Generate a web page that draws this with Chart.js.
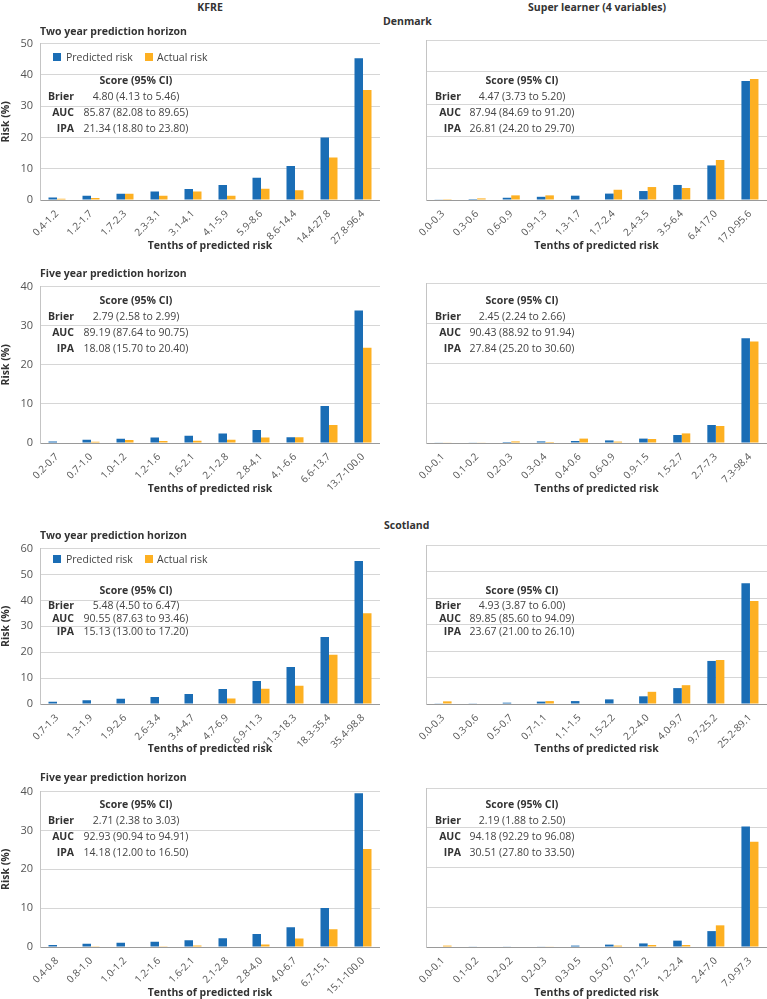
<!DOCTYPE html>
<html><head><meta charset="utf-8">
<script src="https://cdn.jsdelivr.net/npm/chart.js@4.4.1/dist/chart.umd.min.js"></script>
<style>
body{margin:0;width:767px;height:999px;overflow:hidden;background:#fff;position:relative;font-family:"Open Sans",sans-serif;color:#333}
.t{position:absolute;white-space:nowrap;line-height:1;transform:translateY(-50%)}
canvas{position:absolute}
</style></head><body>
<script>
// ---------- data ----------
const catsDK2_KFRE = ["0.4-1.2","1.2-1.7","1.7-2.3","2.3-3.1","3.1-4.1","4.1-5.9","5.9-8.6","8.6-14.4","14.4-27.8","27.8-96.4"];
const predDK2_KFRE = [0.8,1.35,2.0,2.7,3.5,4.8,7.1,10.9,20.0,45.3];
const actDK2_KFRE  = [0.4,0.6,2.0,1.35,2.7,1.35,3.6,3.1,13.6,35.2];

const catsDK2_SL = ["0.0-0.3","0.3-0.6","0.6-0.9","0.9-1.3","1.3-1.7","1.7-2.4","2.4-3.5","3.5-6.4","6.4-17.0","17.0-95.6"];
const predDK2_SL = [0.2,0.3,0.7,1.0,1.35,2.0,2.8,4.7,10.8,37.2];
const actDK2_SL  = [0.05,0.5,1.45,1.45,0,3.2,4.05,3.75,12.5,37.8];

const catsDK5_KFRE = ["0.2-0.7","0.7-1.0","1.0-1.2","1.2-1.6","1.6-2.1","2.1-2.8","2.8-4.1","4.1-6.6","6.6-13.7","13.7-100.0"];
const predDK5_KFRE = [0.4,0.85,1.1,1.4,1.85,2.45,3.35,1.5,9.45,33.9];
const actDK5_KFRE  = [0.15,0.35,0.75,0.5,0.6,0.85,1.4,1.5,4.6,24.35];

const catsDK5_SL = ["0.0-0.1","0.1-0.2","0.2-0.3","0.3-0.4","0.4-0.6","0.6-0.9","0.9-1.5","1.5-2.7","2.7-7.3","7.3-98.4"];
const predDK5_SL = [0.15,0.15,0.25,0.4,0.5,0.65,1.1,2.0,4.5,26.2];
const actDK5_SL  = [0.15,0.15,0.4,0.25,1.1,0.35,1.0,2.4,4.25,25.35];

const catsSC2_KFRE = ["0.7-1.3","1.3-1.9","1.9-2.6","2.6-3.4","3.4-4.7","4.7-6.9","6.9-11.3","11.3-18.3","18.3-35.4","35.4-98.8"];
const predSC2_KFRE = [0.9,1.4,2.0,2.75,3.9,5.75,8.9,14.25,25.9,55.25];
const actSC2_KFRE  = [0,0,0,0,0,2.1,5.9,7.0,19.0,35.0];

const catsSC2_SL = ["0.0-0.3","0.3-0.6","0.5-0.7","0.7-1.1","1.1-1.5","1.5-2.2","2.2-4.0","4.0-9.7","9.7-25.2","25.2-89.1"];
const predSC2_SL = [0.25,0.25,0.5,0.9,1.1,1.75,2.9,6.0,16.25,45.6];
const actSC2_SL  = [1.0,0,0,1.1,0,0,4.6,7.1,16.6,38.9];

const catsSC5_KFRE = ["0.4-0.8","0.8-1.0","1.0-1.2","1.2-1.6","1.6-2.1","2.1-2.8","2.8-4.0","4.0-6.7","6.7-15.1","15.1-100.0"];
const predSC5_KFRE = [0.5,0.85,1.1,1.35,1.75,2.25,3.35,5.1,10.05,39.6];
const actSC5_KFRE  = [0.1,0.05,0.1,0.05,0.4,0.1,0.65,2.2,4.6,25.25];

const catsSC5_SL = ["0.0-0.1","0.1-0.2","0.2-0.2","0.2-0.3","0.3-0.5","0.5-0.7","0.7-1.2","1.2-2.4","2.4-7.0","7.0-97.3"];
const predSC5_SL = [0,0.1,0.1,0.15,0.35,0.6,0.9,1.6,4.0,30.3];
const actSC5_SL  = [0.35,0,0,0.1,0,0.35,0.5,0.5,5.45,26.5];

const scoreLabels = ["Brier","AUC","IPA"];
const scoresDK2_KFRE = ["4.80 (4.13 to 5.46)","85.87 (82.08 to 89.65)","21.34 (18.80 to 23.80)"];
const scoresDK2_SL   = ["4.47 (3.73 to 5.20)","87.94 (84.69 to 91.20)","26.81 (24.20 to 29.70)"];
const scoresDK5_KFRE = ["2.79 (2.58 to 2.99)","89.19 (87.64 to 90.75)","18.08 (15.70 to 20.40)"];
const scoresDK5_SL   = ["2.45 (2.24 to 2.66)","90.43 (88.92 to 91.94)","27.84 (25.20 to 30.60)"];
const scoresSC2_KFRE = ["5.48 (4.50 to 6.47)","90.55 (87.63 to 93.46)","15.13 (13.00 to 17.20)"];
const scoresSC2_SL   = ["4.93 (3.87 to 6.00)","89.85 (85.60 to 94.09)","23.67 (21.00 to 26.10)"];
const scoresSC5_KFRE = ["2.71 (2.38 to 3.03)","92.93 (90.94 to 94.91)","14.18 (12.00 to 16.50)"];
const scoresSC5_SL   = ["2.19 (1.88 to 2.50)","94.18 (92.29 to 96.08)","30.51 (27.80 to 33.50)"];

const seriesNames = ["Predicted risk","Actual risk"];

// ---------- style ----------
const FONT = "'Open Sans', sans-serif";
const BLUE = "#1a6db5", ORANGE = "#fdb022";

function txt(x, y, s, o = {}) {
  const size = o.size || 10.5, bold = !!o.bold, align = o.align || 'left', color = o.color || '#333';
  const d = document.createElement('div');
  d.className = 't'; d.textContent = s;
  d.style.top = y + 'px'; d.style.fontSize = size + 'px';
  d.style.fontWeight = bold ? '700' : '400'; d.style.color = color;
  if (align === 'left') d.style.left = x + 'px';
  else if (align === 'right') d.style.right = (767 - x) + 'px';
  else { d.style.left = x + 'px'; d.style.transform = 'translate(-50%,-50%)'; }
  document.body.appendChild(d);
}
function swatch(x, y, col) {
  const d = document.createElement('div');
  d.style.cssText = `position:absolute;left:${x}px;top:${y-4}px;width:8px;height:8px;background:${col}`;
  document.body.appendChild(d);
}

function panel(p) {
  const c = document.createElement('canvas');
  c.style.left = p.left + 'px'; c.style.top = p.top + 'px';
  c.style.width = p.width + 'px'; c.style.height = p.height + 'px';
  c.width = p.width; c.height = p.height;
  document.body.appendChild(c);
  new Chart(c, {
    type: 'bar',
    data: { labels: p.cats, datasets: [
      { label: seriesNames[0], data: p.pred, backgroundColor: BLUE, borderWidth: 0 },
      { label: seriesNames[1], data: p.act, backgroundColor: ORANGE, borderWidth: 0 }
    ]},
    options: {
      responsive: false, animation: false, devicePixelRatio: 1,
      layout: { padding: { top: p.padTop, left: 0, right: 0, bottom: 0 } },
      plugins: { legend: { display: false }, tooltip: { enabled: false } },
      datasets: { bar: { categoryPercentage: 0.5, barPercentage: 1 } },
      scales: {
        x: {
          grid: { display: false },
          border: { display: true, color: '#9a9a9a', width: 1 },
          ticks: { minRotation: 45, maxRotation: 45, autoSkip: false, padding: 0, color: '#555', font: { family: FONT, size: 10 } },
          title: { display: true, text: 'Tenths of predicted risk', color: '#333', font: { family: FONT, size: 10.5, weight: 'bold' }, padding: { top: 0, bottom: 0 } },
          afterFit: s => { s.height = p.xH; }
        },
        y: {
          min: 0, max: p.max,
          ticks: { display: p.showY, stepSize: 10, padding: 7, color: '#555', font: { family: FONT, size: 11 } },
          grid: { color: '#d6d6d6', drawTicks: false, lineWidth: 1 },
          border: { display: true, color: '#c4c4c4' },
          title: { display: p.showY, text: 'Risk (%)', color: '#333', font: { family: FONT, size: 10.5, weight: 'bold' }, padding: { top: 0, bottom: 0 } },
          afterFit: s => { s.width = p.yW; }
        }
      }
    }
  });
}

function scores(xLab, xVal, yHead, rowYs, vals) {
  txt(xVal, yHead, 'Score (95% CI)', { bold: true, align: 'center' });
  scoreLabels.forEach((l, i) => {
    txt(xLab, rowYs[i], l, { bold: true, align: 'right' });
    txt(xVal, rowYs[i], vals[i], { align: 'center', color: '#444' });
  });
}
function legend(y) {
  swatch(53, y, BLUE); txt(66, y, seriesNames[0], { color: '#444' });
  swatch(145, y, ORANGE); txt(157, y, seriesNames[1], { color: '#444' });
}

// rows: canvas top, height, chart-area top padding, x-axis height
const rows = [
  { top: 30,  height: 222, padTop: 10, xH: 52, max: 50 },
  { top: 273, height: 222, padTop: 10, xH: 52, max: 40 },
  { top: 535, height: 220, padTop: 10, xH: 51, max: 60 },
  { top: 778, height: 221, padTop: 10, xH: 52, max: 40 }
];
const L = { left: 0, width: 380, yW: 40, showY: true };
const R = { left: 383, width: 384, yW: 43, showY: false };

panel({ ...L, ...rows[0], cats: catsDK2_KFRE, pred: predDK2_KFRE, act: actDK2_KFRE });
panel({ ...R, ...rows[0], cats: catsDK2_SL,   pred: predDK2_SL,   act: actDK2_SL });
panel({ ...L, ...rows[1], cats: catsDK5_KFRE, pred: predDK5_KFRE, act: actDK5_KFRE });
panel({ ...R, ...rows[1], cats: catsDK5_SL,   pred: predDK5_SL,   act: actDK5_SL });
panel({ ...L, ...rows[2], cats: catsSC2_KFRE, pred: predSC2_KFRE, act: actSC2_KFRE });
panel({ ...R, ...rows[2], cats: catsSC2_SL,   pred: predSC2_SL,   act: actSC2_SL });
panel({ ...L, ...rows[3], cats: catsSC5_KFRE, pred: predSC5_KFRE, act: actSC5_KFRE });
panel({ ...R, ...rows[3], cats: catsSC5_SL,   pred: predSC5_SL,   act: actSC5_SL });

// headings
txt(210, 7, 'KFRE', { bold: true, align: 'center' });
txt(597, 7, 'Super learner (4 variables)', { bold: true, align: 'center' });
txt(383, 21, 'Denmark', { bold: true });
txt(384, 525, 'Scotland', { bold: true });
txt(40, 31, 'Two year prediction horizon', { bold: true });
txt(40, 273, 'Five year prediction horizon', { bold: true });
txt(40, 535, 'Two year prediction horizon', { bold: true });
txt(40, 777, 'Five year prediction horizon', { bold: true });

legend(57);
legend(559);

scores(74, 136, 80, [96, 112, 128], scoresDK2_KFRE);
scores(461, 522, 80, [96, 112, 128], scoresDK2_SL);
scores(74, 136, 300, [316, 332, 348], scoresDK5_KFRE);
scores(461, 522, 300, [316, 332, 348], scoresDK5_SL);
scores(74, 136, 590, [605, 618, 631], scoresSC2_KFRE);
scores(461, 522, 590, [605, 618, 631], scoresSC2_SL);
scores(74, 136, 804, [820, 836, 852], scoresSC5_KFRE);
scores(461, 522, 804, [820, 836, 852], scoresSC5_SL);
</script>
</body></html>
